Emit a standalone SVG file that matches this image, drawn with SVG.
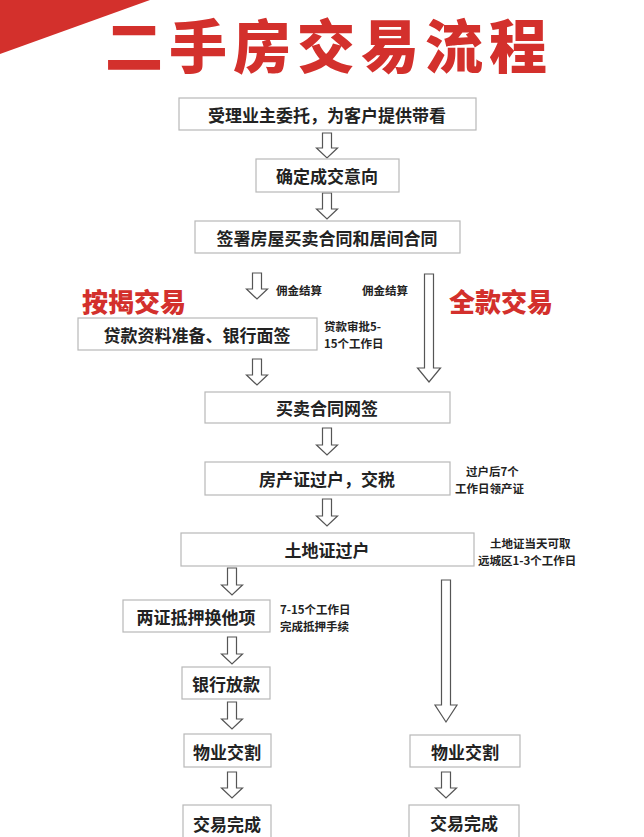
<svg xmlns="http://www.w3.org/2000/svg" width="644" height="837" viewBox="0 0 644 837">
<style>
.box{fill:#fff;stroke:#b8b8b8;stroke-width:1.2}
.t{font-family:"Noto Sans CJK SC",sans-serif;font-weight:bold;font-size:17px;fill:#222;text-anchor:middle;dominant-baseline:central}
.n{font-family:"Noto Sans CJK SC",sans-serif;font-weight:bold;font-size:11.5px;fill:#222;dominant-baseline:central}
.r{font-family:"Noto Sans CJK SC",sans-serif;font-weight:900;fill:#d3302c}
.ar{fill:#fff;stroke:#555;stroke-width:1.2;stroke-linejoin:miter}
</style>
<rect width="644" height="837" fill="#fff"/>
<polygon points="0,0 150,0 0,54" fill="#d3302c"/>
<text class="r" x="329" y="68" font-size="58" text-anchor="middle" letter-spacing="6">二手房交易流程</text>
<text class="r" x="134" y="312" font-size="26" text-anchor="middle">按揭交易</text>
<text class="r" x="501" y="312" font-size="26" text-anchor="middle">全款交易</text>
<g id="connectors">
<polygon class="ar" points="322.5,133 331.5,133 331.5,148 337.5,148 327,158 316.5,148 322.5,148"/>
<polygon class="ar" points="322.5,193 331.5,193 331.5,209 337.5,209 327,219 316.5,209 322.5,209"/>
<polygon class="ar" points="252.5,273 261.5,273 261.5,289 267.5,289 257,299 246.5,289 252.5,289"/>
<polygon class="ar" points="424.5,274 433.5,274 433.5,368 440.5,368 429,382 417.5,368 424.5,368"/>
<polygon class="ar" points="252.5,359 261.5,359 261.5,375 267.5,375 257,385 246.5,375 252.5,375"/>
<polygon class="ar" points="322.5,428 331.5,428 331.5,445 337.5,445 327,455 316.5,445 322.5,445"/>
<polygon class="ar" points="322.5,499 331.5,499 331.5,516 337.5,516 327,526 316.5,516 322.5,516"/>
<polygon class="ar" points="227.5,568 236.5,568 236.5,585 242.5,585 232,595 221.5,585 227.5,585"/>
<polygon class="ar" points="441.5,580 450.5,580 450.5,705 457,705 446,722 435,705 441.5,705"/>
<polygon class="ar" points="227.5,637 236.5,637 236.5,654 242.5,654 232,664 221.5,654 227.5,654"/>
<polygon class="ar" points="227.5,702 236.5,702 236.5,719 242.5,719 232,729 221.5,719 227.5,719"/>
<polygon class="ar" points="227.5,772 236.5,772 236.5,788 242.5,788 232,798 221.5,788 227.5,788"/>
<polygon class="ar" points="441.5,772 450.5,772 450.5,788 456.5,788 446,798 435.5,788 441.5,788"/>
</g>
<text class="n" x="276" y="290">佣金结算</text>
<text class="n" x="362" y="290">佣金结算</text>
<g id="n1"><rect class="box" x="179" y="98" width="297" height="32"/><text class="t" x="327" y="114">受理业主委托，为客户提供带看</text></g>
<g id="n2"><rect class="box" x="256" y="159" width="143" height="33"/><text class="t" x="327" y="175">确定成交意向</text></g>
<g id="n3"><rect class="box" x="195" y="221" width="265" height="32"/><text class="t" x="327" y="237">签署房屋买卖合同和居间合同</text></g>
<g id="n4"><rect class="box" x="78" y="318" width="239" height="32"/><text class="t" x="197" y="334">贷款资料准备、银行面签</text>
<text class="n" x="324" y="326">贷款审批5-</text><text class="n" x="324" y="343">15个工作日</text></g>
<g id="n5"><rect class="box" x="205" y="392" width="245" height="31"/><text class="t" x="327" y="407">买卖合同网签</text></g>
<g id="n6"><rect class="box" x="205" y="462" width="245" height="33"/><text class="t" x="327" y="478">房产证过户，交税</text>
<text class="n" x="466" y="471">过户后7个</text><text class="n" x="455" y="488">工作日领产证</text></g>
<g id="n7"><rect class="box" x="181" y="533" width="293" height="33"/><text class="t" x="327" y="549">土地证过户</text>
<text class="n" x="490" y="543">土地证当天可取</text><text class="n" x="478" y="560">远城区1-3个工作日</text></g>
<g id="n8"><rect class="box" x="123" y="600" width="147" height="32"/><text class="t" x="196" y="616">两证抵押换他项</text>
<text class="n" x="280" y="609">7-15个工作日</text><text class="n" x="280" y="626">完成抵押手续</text></g>
<g id="n9"><rect class="box" x="182" y="667" width="88" height="32"/><text class="t" x="226" y="683">银行放款</text></g>
<g id="n10"><rect class="box" x="184" y="734" width="87" height="33"/><text class="t" x="227" y="751">物业交割</text></g>
<g id="n11"><rect class="box" x="183" y="805" width="88" height="40"/><text class="t" x="227" y="823">交易完成</text></g>
<g id="n12"><rect class="box" x="410" y="735" width="110" height="32"/><text class="t" x="465" y="751">物业交割</text></g>
<g id="n13"><rect class="box" x="409" y="805" width="110" height="40"/><text class="t" x="464" y="822">交易完成</text></g>
</svg>
